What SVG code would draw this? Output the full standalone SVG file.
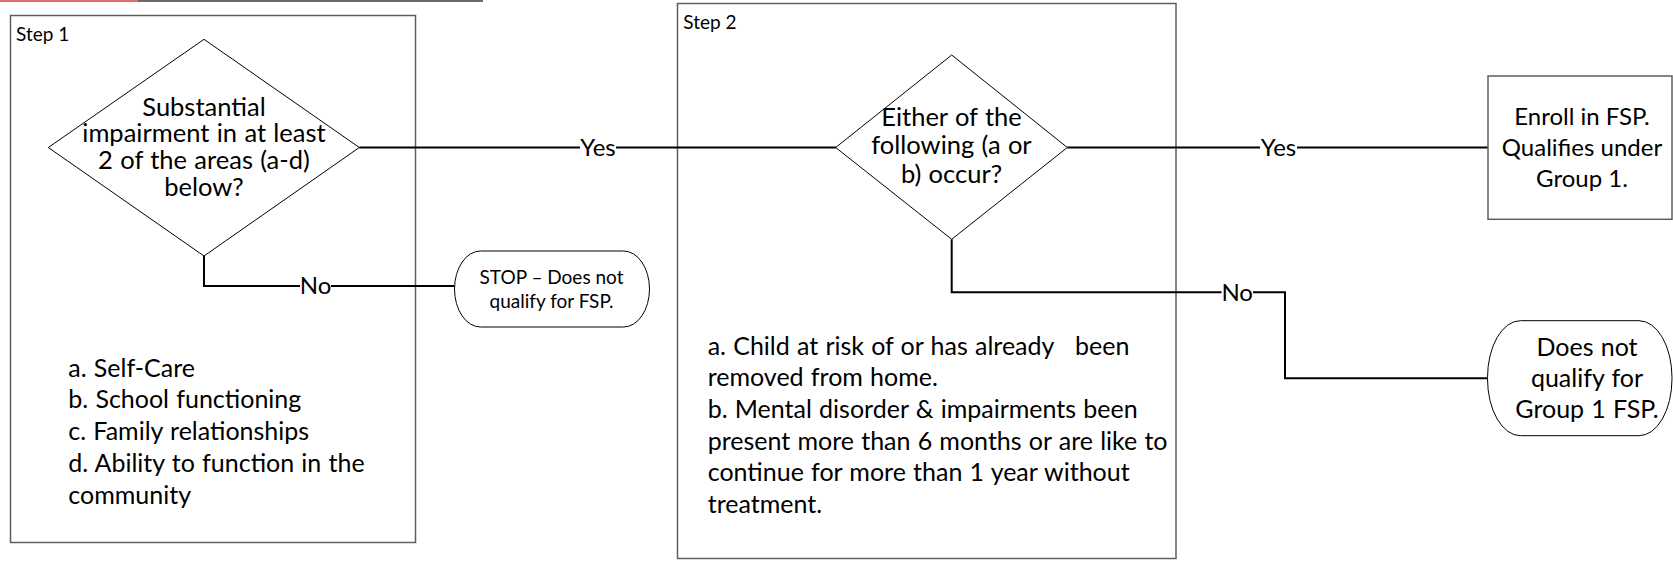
<svg xmlns="http://www.w3.org/2000/svg" width="1673" height="568" viewBox="0 0 1673 568">
<style>
  text { font-family: Lato, "Liberation Sans", sans-serif; fill: #000; }
  .t { font-size: 25px; word-spacing: 0.8px; }
  .d { font-size: 25.5px; word-spacing: 0.8px; }
  .e { font-size: 24px; }
  .y { font-size: 24px; }
  .c { text-anchor: middle; }
  .s { font-size: 19px; }
  .lbl { font-size: 19px; }
  .box { fill: none; stroke: #5f5f5f; stroke-width: 1.5; }
  .dia { fill: #fff; stroke: #000; stroke-width: 1; }
  .term { fill: #fff; stroke: #000; stroke-width: 1; }
  .conn { fill: none; stroke: #000; stroke-width: 2; }
  .gap { fill: #fff; }
</style>
<rect width="1673" height="568" fill="#fff"/>
<g id="title-rule">
  <line x1="0" y1="1" x2="138" y2="1" stroke="#e26b6b" stroke-width="2"/>
  <line x1="138" y1="1" x2="483" y2="1" stroke="#6b6b6b" stroke-width="2"/>
</g>
<g id="step1">
  <rect class="box" x="10.5" y="15.5" width="405" height="527"/>
  <text class="lbl" x="16" y="41">Step 1</text>
  <text class="t" x="68.3" y="376.7">a. Self-Care</text>
  <text class="t" x="68.3" y="408.4">b. School functioning</text>
  <text class="t" x="68.3" y="440.1">c. Family relationships</text>
  <text class="t" x="68.3" y="471.8">d. Ability to function in the</text>
  <text class="t" x="68.3" y="503.5">community</text>
</g>
<g id="step2">
  <rect class="box" x="677.5" y="3.5" width="498.5" height="555"/>
  <text class="lbl" x="683.3" y="29.3">Step 2</text>
  <text class="t" x="707.7" y="354.5">a. Child at risk of or has already<tspan x="1075">been</tspan></text>
  <text class="t" x="707.7" y="386.2">removed from home.</text>
  <text class="t" x="707.7" y="417.9">b. Mental disorder &amp; impairments been</text>
  <text class="t" x="707.7" y="449.6">present more than 6 months or are like to</text>
  <text class="t" x="707.7" y="481.3">continue for more than 1 year without</text>
  <text class="t" x="707.7" y="513">treatment.</text>
</g>
<g id="connectors">
  <path class="conn" d="M359.3 147.5 H836"/>
  <path class="conn" d="M204 256 V286 H454.5"/>
  <path class="conn" d="M1067.3 147.5 H1488"/>
  <path class="conn" d="M951.7 239.3 V292.3 H1285 V378.3 H1487.5"/>
  <rect class="gap" x="580" y="139" width="36" height="18"/>
  <text class="y c" x="598" y="156">Yes</text>
  <rect class="gap" x="1260" y="139" width="37" height="18"/>
  <text class="y c" x="1278.5" y="156">Yes</text>
  <rect class="gap" x="300" y="278" width="31" height="18"/>
  <text class="y c" x="315.5" y="294.3">No</text>
  <rect class="gap" x="1221.5" y="284" width="31.5" height="18"/>
  <text class="y c" x="1237.2" y="300.5">No</text>
</g>
<g id="decision1">
  <polygon class="dia" points="204,39.3 359.3,147.5 204,256 48.3,147.5"/>
  <text class="d c" x="204" y="115.5">Substantial</text>
  <text class="d c" x="204" y="142.3">impairment in at least</text>
  <text class="d c" x="204" y="169">2 of the areas (a-d)</text>
  <text class="d c" x="204" y="195.8">below?</text>
</g>
<g id="decision2">
  <polygon class="dia" points="951.7,55 1067.3,147.5 951.7,239.3 835.7,147.5"/>
  <text class="d c" x="951.5" y="125.5">Either of the</text>
  <text class="d c" x="951.5" y="154">following (a or</text>
  <text class="d c" x="951.5" y="182.5">b) occur?</text>
</g>
<g id="stop">
  <rect class="term" x="454.5" y="251" width="195" height="76" rx="26" ry="38"/>
  <text class="s c" x="551.5" y="284">STOP – Does not</text>
  <text class="s c" x="551.5" y="307.5">qualify for FSP.</text>
</g>
<g id="enroll">
  <rect class="box" x="1488" y="76" width="184" height="143.3" fill="#fff"/>
  <text class="e c" x="1582" y="125">Enroll in FSP.</text>
  <text class="e c" x="1582" y="156">Qualifies under</text>
  <text class="e c" x="1582" y="187">Group 1.</text>
</g>
<g id="notqualify">
  <rect class="term" x="1487.5" y="320.7" width="184.5" height="115" rx="33" ry="57"/>
  <text class="t c" x="1587" y="355.5">Does not</text>
  <text class="t c" x="1587" y="386.5">qualify for</text>
  <text class="t c" x="1587" y="417.5">Group 1 FSP.</text>
</g>
</svg>
